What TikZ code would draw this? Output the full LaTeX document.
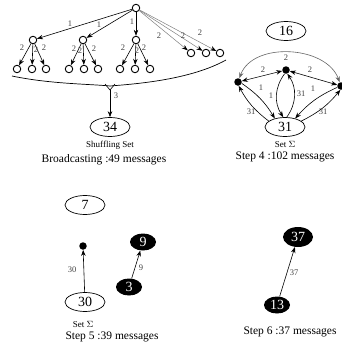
\documentclass[tikz,border=0pt]{standalone}
\usepackage{fontspec}
\setmainfont{Liberation Serif}
\usetikzlibrary{shapes.geometric,arrows.meta}
\begin{document}
\begin{tikzpicture}[x=1pt,y=-1pt,
 sc/.style={circle,draw,line width=0.9pt,minimum size=7.5pt,inner sep=0pt},
 bdot/.style={circle,fill=black,minimum size=7.5pt,inner sep=0pt},
 ell/.style={ellipse,draw,line width=0.7pt,minimum width=40pt,minimum height=19pt,inner sep=0pt,font=\fontsize{14}{14}\selectfont},
 bell/.style={ellipse,fill=black,text=white,minimum width=26pt,minimum height=17pt,inner sep=0pt,font=\fontsize{14}{14}\selectfont},
 lab/.style={font=\fontsize{8.5}{8.5}\selectfont,text=black!75,inner sep=0pt},
 captxt/.style={font=\fontsize{11.5}{12}\selectfont,inner sep=0pt},
 smalltxt/.style={font=\fontsize{9}{9}\selectfont,inner sep=0pt},
 arr/.style={-{Stealth[length=6pt,width=4.5pt]},line width=0.6pt},
 garr/.style={-{Stealth[length=6pt,width=4.5pt,color=black]},line width=0.5pt,draw=black!50},
 darr/.style={{Stealth[length=6pt,width=4.5pt]}-{Stealth[length=6pt,width=4.5pt]},line width=0.6pt},
]
\path[use as bounding box] (0,0) rectangle (342,351);

% ---------- Broadcasting tree ----------
\node[sc] (r) at (136,8) {};
\node[sc] (a) at (33,40) {};
\node[sc] (b) at (83,40) {};
\node[sc] (c) at (136,40) {};
\node[sc] (a1) at (17,69) {};
\node[sc] (a2) at (32,69) {};
\node[sc] (a3) at (46,69) {};
\node[sc] (b1) at (69,69) {};
\node[sc] (b2) at (84,69) {};
\node[sc] (b3) at (98,69) {};
\node[sc] (c1) at (120,69) {};
\node[sc] (c2) at (135,69) {};
\node[sc] (c3) at (150,69) {};
\node[sc] (d1) at (191,53) {};
\node[sc] (d2) at (206,53) {};
\node[sc] (d3) at (220,53) {};

\draw[arr] (r) -- (a);
\draw[arr] (r) -- (b);
\draw[arr] (r) -- (c);
\node[lab] (l1a) at (70,24) {1};
\node[lab] (l1b) at (99,25) {1};
\node[lab] (l1c) at (132,22) {1};

\foreach \p in {a,b,c}{
  \draw[arr] (\p) -- (\p1);
  \draw[arr] (\p) -- (\p2);
  \draw[arr] (\p) -- (\p3);
}
\node[lab] (la1) at (22,48) {2};
\node[lab] (la2) at (36,50) {2};
\node[lab] (la3) at (44,48) {2};
\node[lab] (lb1) at (74,49) {2};
\node[lab] (lb2) at (80,51) {2};
\node[lab] (lb3) at (94,49) {2};
\node[lab] (lc1) at (123,48) {2};
\node[lab] (lc2) at (137,51) {2};
\node[lab] (lc3) at (144,48) {2};

\draw[garr] (r) -- (d1);
\draw[garr] (r) -- (d2);
\draw[garr] (r) -- (d3);
\node[lab] (ld1) at (159,36) {2};
\node[lab] (ld2) at (183,36) {2};
\node[lab] (ld3) at (200,33) {2};

% brace
\coordinate (bl) at (12,76);
\coordinate (br) at (226,60);
\coordinate (bm) at (110,86);
\coordinate (tip) at (110,90);
\draw[line width=0.7pt] (bl) .. controls (50,84) and (90,84) .. (bm);
\draw[line width=0.7pt] (br) .. controls (190,80) and (135,84) .. (bm);
\draw[line width=0.6pt] (105,84) -- (tip) -- (115,84);

\node[ell] (s34) at (110,127) {34};
\draw[arr] (tip) -- (s34);
\node[lab] (l3) at (116,96) {3};
\node[smalltxt] (shs) at (110,145) {Shuffling Set};
\node[captxt] (cb) at (104,160) {Broadcasting :49 messages};

% ---------- Step 4 ----------
\node[ell] (e16) at (286,31) {16};
\node[bdot] (T) at (286,70) {};
\node[bdot] (L) at (238,82) {};
\node[bdot] (R) at (341,86) {};
\node[ell] (e31) at (285,127) {31};
\node[smalltxt] (set4) at (285,144) {Set $\Sigma$};
\node[captxt] (c4) at (285,157) {Step 4 :102 messages};

\draw[darr,draw=black!60] (L) to[out=70,in=110] (R);
\node[lab] (t2) at (286,58) {2};
\draw[darr] (L) -- (T);
\draw[darr] (T) -- (R);
\node[lab] (t2a) at (263,70) {2};
\node[lab] (t2b) at (310,70) {2};

\draw[arr] (L.-20) to[bend left=12] (e31.140);
\draw[arr] (e31.160) to[bend left=12] (L.-80);
\node[lab] (t1l) at (261,88) {1};
\node[lab] (t31l) at (251,112) {31};

\draw[arr] (T.-110) to[bend right=35] (e31.100);
\draw[arr] (e31.80) to[bend right=35] (T.-70);
\node[lab] (t1c) at (271,96) {1};
\node[lab] (t31c) at (301,94) {31};

\draw[arr] (R.-160) to[bend right=12] (e31.40);
\draw[arr] (e31.20) to[bend right=12] (R.-100);
\node[lab] (t1r) at (313,89) {1};
\node[lab] (t31r) at (323,112) {31};

% ---------- Step 5 ----------
\node[ell] (e7) at (85,205) {7};
\node[bdot] (d5) at (83,246) {};
\node[ell] (e30) at (85,302) {30};
\draw[arr] (e30) -- (d5);
\node[lab] (l30) at (72,270) {30};
\node[smalltxt] (set5) at (83,324) {Set $\Sigma$};
\node[captxt] (c5) at (112,337) {Step 5 :39 messages};
\node[bell] (b9) at (143,242) {9};
\node[bell] (b3) at (129,287) {3};
\draw[arr] (b3) -- (b9);
\node[lab] (l9) at (141,268) {9};

% ---------- Step 6 ----------
\node[bell,minimum width=30pt,minimum height=20pt] (b37) at (298,237) {37};
\node[bell] (b13) at (277,305) {13};
\draw[arr] (b13) -- (b37);
\node[lab] (l37) at (294,273) {37};
\node[captxt] (c6) at (290,332) {Step 6 :37 messages};
\end{tikzpicture}
\end{document}
